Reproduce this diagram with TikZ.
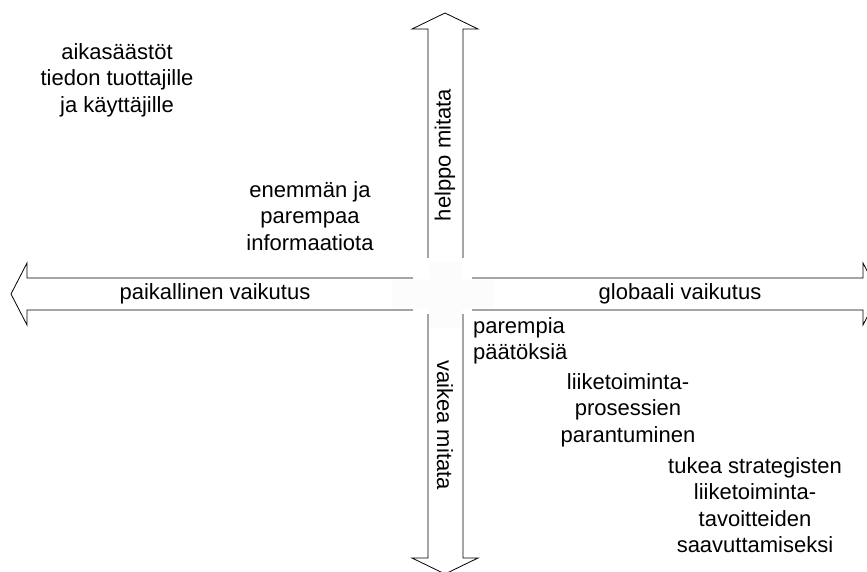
\documentclass[tikz,border=0pt]{standalone}
\usepackage{fontspec}
\setmainfont{Liberation Sans}
\begin{document}
\begin{tikzpicture}[x=1pt,y=-1pt,
  lbl/.style={align=center, font=\fontsize{22}{26.5}\selectfont, inner sep=0pt},
  outline/.style={draw=black, line width=0.8pt, line join=miter}]
\useasboundingbox (0,0) rectangle (867,572);

% the two crossing double arrows, drawn as one outline
\path[outline, fill=white]
  (445,13) -- (478,29) -- (463,29) -- (463,278) -- (863,278) -- (863,263)
  -- (879,294) -- (863,325) -- (863,310) -- (463,310) -- (463,558)
  -- (478,558) -- (445,574) -- (412,558) -- (428,558) -- (428,310)
  -- (27,310) -- (27,325) -- (11,294) -- (27,263) -- (27,278)
  -- (428,278) -- (428,29) -- (412,29) -- cycle;

% soft centre of the cross
\fill[white] (413,258) rectangle (472,314);
\fill[gray!2] (392,279) rectangle (494,309);
\fill[gray!2] (429,262) rectangle (462,328);

% axis labels
\node[lbl] (local) at (215,294) {paikallinen vaikutus};
\node[lbl] (global) at (680,294) {globaali vaikutus};
\node[lbl, rotate=90] (easy) at (445,155) {helppo mitata};
\node[lbl, rotate=-90] (hard) at (445,425) {vaikea mitata};

% effects
\node[lbl] (time) at (117,80) {aikasäästöt\\tiedon tuottajille\\ja käyttäjille};
\node[lbl] (info) at (310,216) {enemmän ja\\parempaa\\informaatiota};
\node[lbl, align=left, anchor=west] (dec) at (473,341) {parempia\\päätöksiä};
\node[lbl] (proc) at (628,410) {liiketoiminta-\\prosessien\\parantuminen};
\node[lbl] (strat) at (755,505) {tukea strategisten\\liiketoiminta-\\tavoitteiden\\saavuttamiseksi};
\end{tikzpicture}
\end{document}
